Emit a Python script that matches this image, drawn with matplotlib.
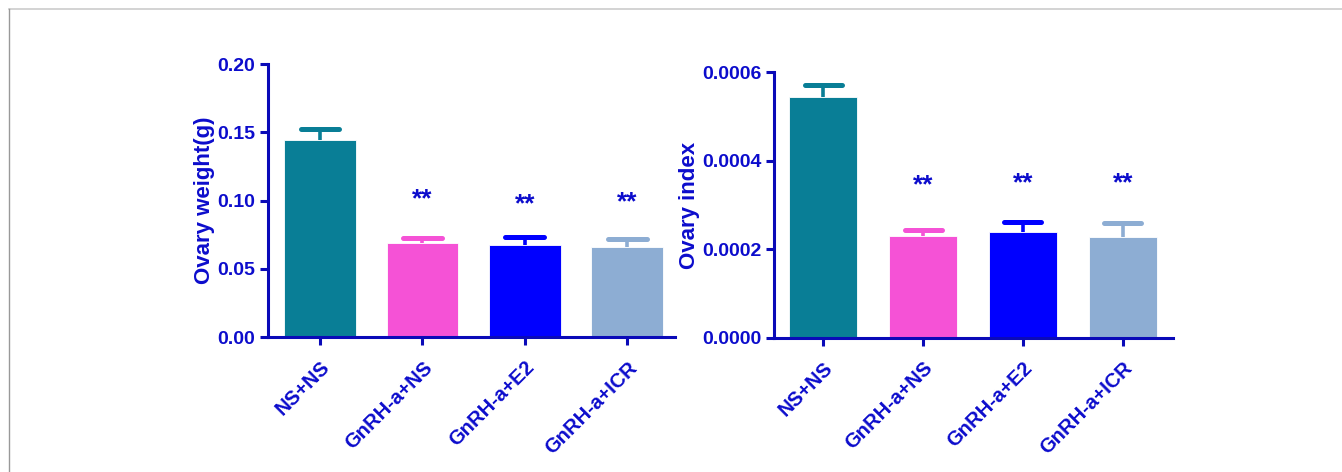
import matplotlib.pyplot as plt
from matplotlib.lines import Line2D
from matplotlib.ticker import FixedLocator, FormatStrFormatter

groups = ['NS+NS', 'GnRH-a+NS', 'GnRH-a+E2', 'GnRH-a+ICR']
colors = ['#097E96', '#F552D6', '#0000FF', '#8DADD3']

weight_mean = [0.1447, 0.0692, 0.0674, 0.0658]
weight_err = [0.0081, 0.0037, 0.0057, 0.0063]
weight_stars = ['', '**', '**', '**']

index_mean = [0.0005446, 0.0002305, 0.0002389, 0.0002283]
index_err = [0.0000264, 0.0000129, 0.0000219, 0.0000302]
index_stars = ['', '**', '**', '**']

ink = '#0C0CCC'
axis_col = '#0A0AB8'

plt.rcParams['font.family'] = ['Liberation Sans', 'DejaVu Sans']
plt.rcParams['font.weight'] = 'bold'

fig = plt.figure(figsize=(13.42, 4.72), dpi=100)

# thin grey frame lines along top and left edges
fig.add_artist(Line2D([9 / 1342, 1], [1 - 8.5 / 472] * 2, transform=fig.transFigure,
                      color='#cccccc', lw=1.2))
fig.add_artist(Line2D([9 / 1342] * 2, [0, 1 - 8.5 / 472], transform=fig.transFigure,
                      color='#999999', lw=1.0))


def bar_panel(ax, means, errs, stars, ylim, yticks, fmt, ylabel, star_y, width, xlim):
    x = range(len(groups))
    ax.bar(x, means, width=width, color=colors, edgecolor='white', linewidth=0.6, zorder=2)
    cap = width * 0.27
    for i, (m, e, c) in enumerate(zip(means, errs, colors)):
        # upper error bar only: stem plus rounded cap
        ax.plot([i, i], [m, m + e], color=c, lw=2.6, solid_capstyle='butt', zorder=1)
        ax.plot([i - cap, i + cap], [m + e, m + e], color=c, lw=3.6,
                solid_capstyle='round', zorder=1)
        if stars[i]:
            ax.text(i, star_y[i], stars[i], ha='center', va='center', color=ink,
                    fontsize=19, fontweight='bold')
    ax.set_xlim(*xlim)
    ax.set_ylim(*ylim)
    ax.yaxis.set_major_locator(FixedLocator(yticks))
    ax.yaxis.set_major_formatter(FormatStrFormatter(fmt))
    ax.set_xticks(list(x))
    ax.set_xticklabels(groups, rotation=45, ha='right', rotation_mode='anchor')
    ax.set_ylabel(ylabel, color=ink, fontsize=16, fontweight='bold', labelpad=1)
    for s in ['top', 'right']:
        ax.spines[s].set_visible(False)
    for s in ['left', 'bottom']:
        ax.spines[s].set_color(axis_col)
        ax.spines[s].set_linewidth(2.2)
    ax.tick_params(colors=axis_col, width=2.2, length=6, labelcolor=ink, labelsize=14)
    ax.tick_params(axis='x', pad=9)
    for lbl in ax.get_xticklabels() + ax.get_yticklabels():
        lbl.set_fontweight('bold')
    for lbl in ax.get_xticklabels():
        lbl.set_fontsize(14.5)


ax1 = fig.add_axes([0.1997, 0.286, 0.3036, 0.578])
bar_panel(ax1, weight_mean, weight_err, weight_stars, (0, 0.2),
          [0, 0.05, 0.10, 0.15, 0.20], '%.2f', 'Ovary weight(g)',
          [0, 0.1010, 0.0975, 0.0985], 0.70, (-0.507, 3.47))

ax2 = fig.add_axes([0.5770, 0.2845, 0.2968, 0.5623])
bar_panel(ax2, index_mean, index_err, index_stars, (0, 0.0006),
          [0, 0.0002, 0.0004, 0.0006], '%.4f', 'Ovary index',
          [0, 0.000345, 0.000349, 0.000349], 0.685, (-0.49, 3.50))

fig.savefig('out.png', dpi=100, facecolor='white')
